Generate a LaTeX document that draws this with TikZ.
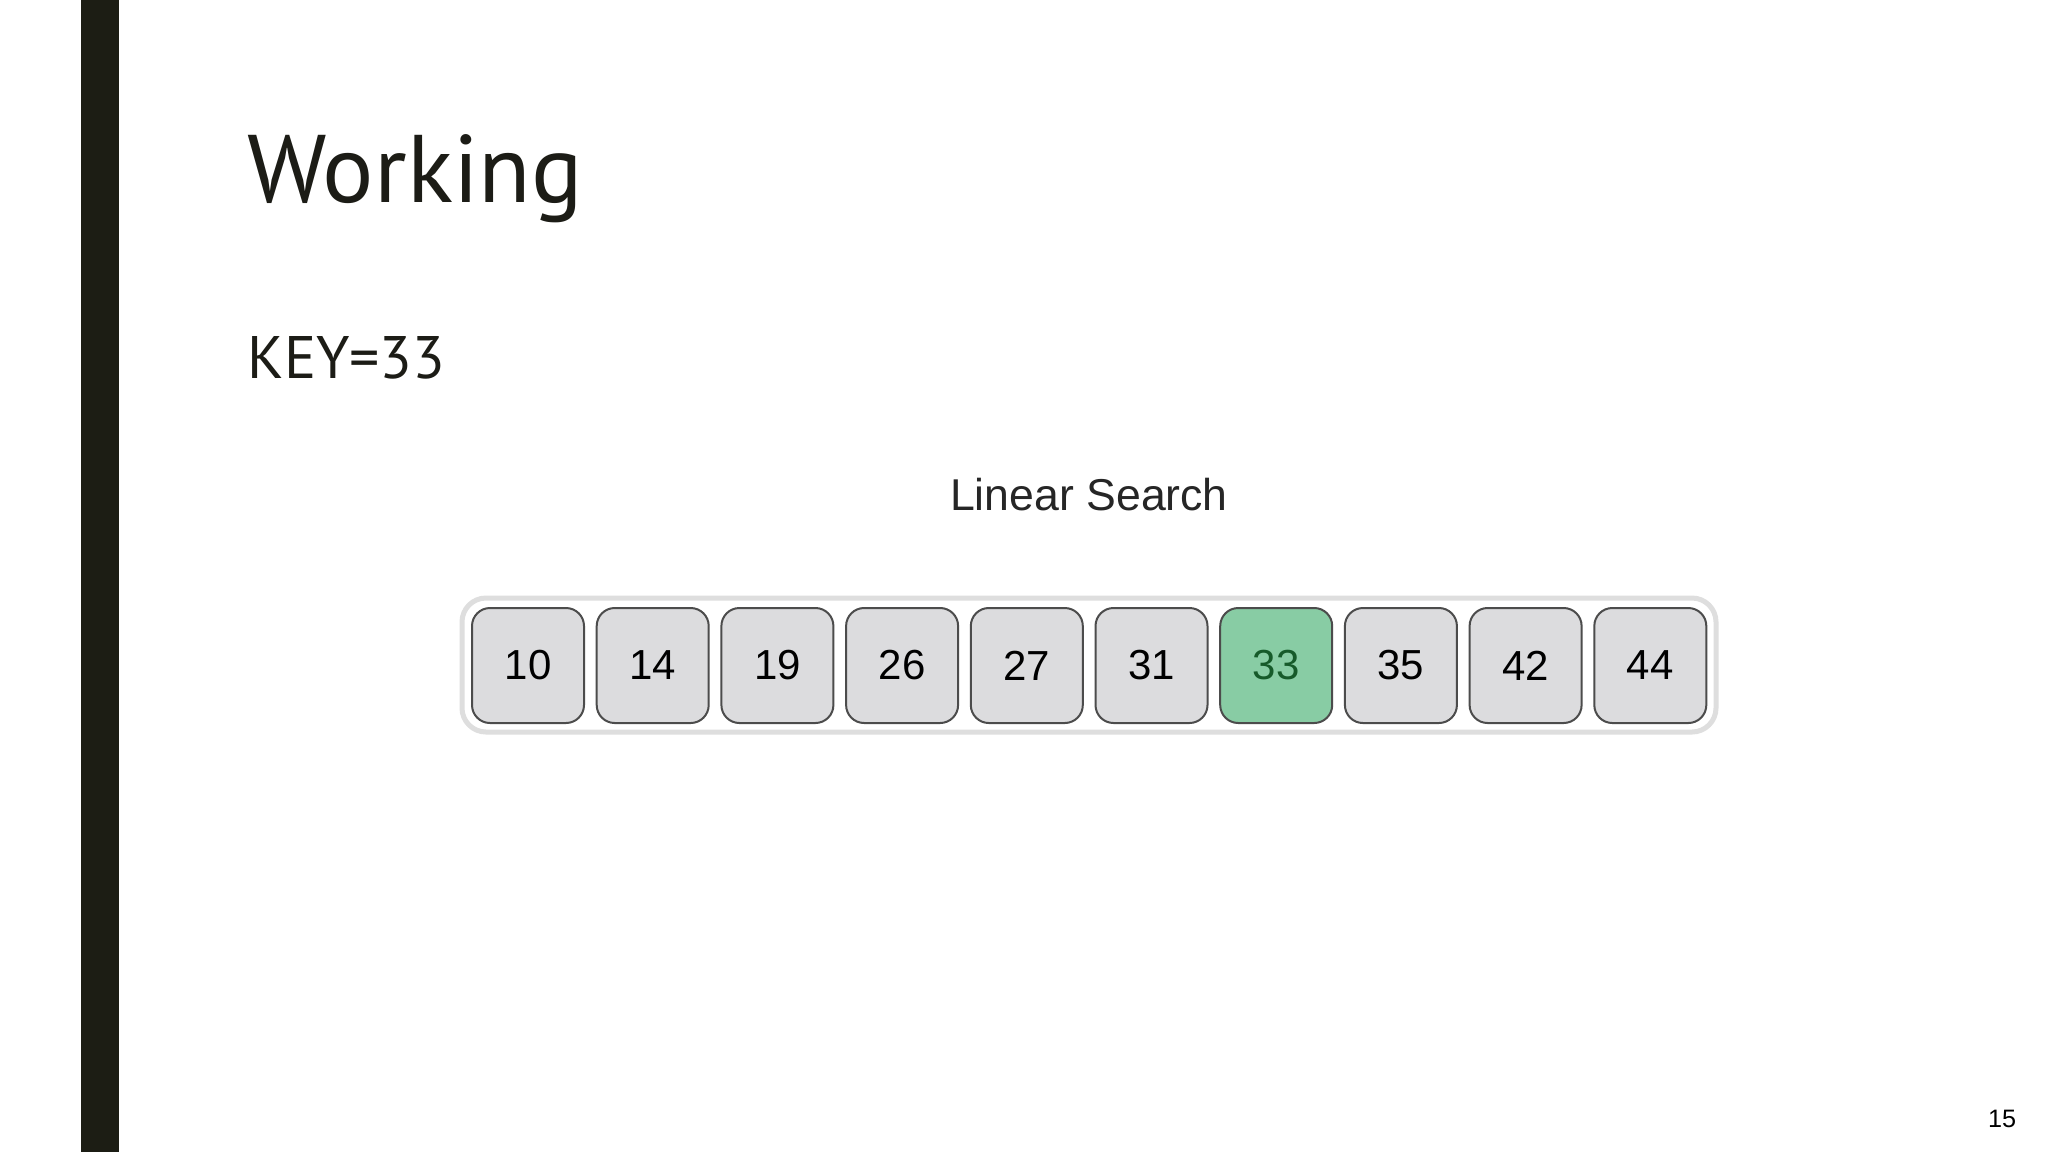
\documentclass[tikz,border=0pt]{standalone}
\usepackage{fontspec}
\setmainfont{Liberation Sans}
\newfontfamily\titlefont{PT Sans}
\definecolor{barcol}{HTML}{1C1D14}
\definecolor{titlecol}{HTML}{1C1C16}
\definecolor{cellfill}{HTML}{DCDCDE}
\definecolor{celldraw}{HTML}{4C4C4C}
\definecolor{hitfill}{HTML}{88CCA4}
\definecolor{hittext}{HTML}{165A2A}
\definecolor{framecol}{HTML}{DEDEDE}
\begin{document}
\begin{tikzpicture}[x=0.5pt,y=-0.5pt,
  cell/.style={draw=celldraw, line width=1pt, fill=cellfill, rounded corners=9pt,
    minimum width=56pt, minimum height=57.5pt, inner sep=0pt,
    font=\fontsize{21}{23}\selectfont},
  hit/.style={cell, fill=hitfill, text=hittext},
  frame/.style={draw=framecol, line width=2.5pt, rounded corners=12pt,
    minimum width=627pt, minimum height=67pt, inner sep=0pt}]
\fill[white] (0,0) rectangle (2048,1152);
\useasboundingbox (0,0) rectangle (2048,1152);
\fill[barcol] (81,0) rectangle (119,1152);
\node[anchor=base west, inner sep=0pt, text=titlecol,
  font=\titlefont\fontsize{48}{52}\selectfont] (title) at (247,202) {Working};
\node[anchor=base west, inner sep=0pt, text=titlecol,
  font=\titlefont\fontsize{30}{33}\selectfont] (key) at (247,378) {KEY=33};
\node[anchor=base, inner sep=0pt, text=black!85,
  font=\fontsize{22.3}{24}\selectfont] (caption) at (1089,510) {Linear Search};
\node[frame] (container) at (1089,665) {};
\foreach \v [count=\i] in {10,14,19,26,27,31,33,35,42,44}{
  \ifnum\v=33
    \node[hit] (b\i) at ({528+(\i-1)*124.7},665.5) {\v};
  \else
    \node[cell] (b\i) at ({528+(\i-1)*124.7},665.5) {\v};
  \fi
}
\node[anchor=base, inner sep=0pt, font=\fontsize{12.6}{14}\selectfont] (page) at (2002,1127) {15};
\end{tikzpicture}
\end{document}
